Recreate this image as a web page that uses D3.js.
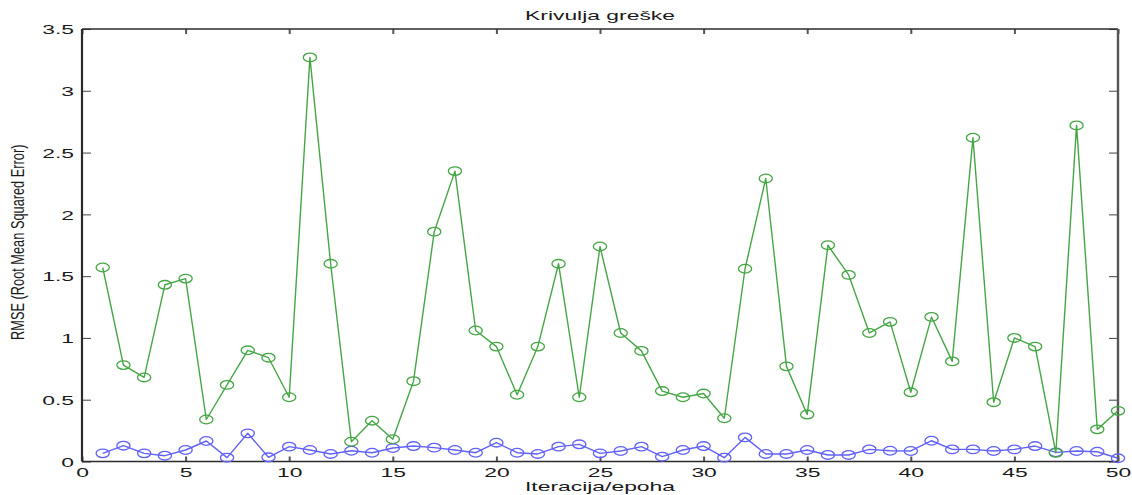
<!DOCTYPE html>
<html>
<head>
<meta charset="utf-8">
<script src="https://cdn.jsdelivr.net/npm/d3@7"></script>
<style>
  html, body { margin: 0; padding: 0; background: #fff; }
  svg { display: block; }
  text { font-family: "Liberation Sans", Arial, Helvetica, sans-serif; fill: #1a1a1a; }
</style>
</head>
<body>
<svg id="chart" width="1132" height="495"></svg>
<script>
// Epochs 1..50
const epochs = d3.range(1, 51);

// RMSE of the validation run (green)
const rmseGreen = [
  1.57, 0.78, 0.68, 1.43, 1.48, 0.34, 0.62, 0.90, 0.84, 0.52,
  3.27, 1.60, 0.16, 0.33, 0.18, 0.65, 1.86, 2.35, 1.06, 0.93,
  0.54, 0.93, 1.60, 0.52, 1.74, 1.04, 0.895, 0.57, 0.52, 0.55,
  0.35, 1.56, 2.29, 0.77, 0.38, 1.75, 1.51, 1.04, 1.13, 0.56,
  1.17, 0.81, 2.62, 0.48, 1.00, 0.93, 0.07, 2.72, 0.26, 0.41
];

// RMSE of the training run (blue)
const rmseBlue = [
  0.066, 0.128, 0.066, 0.047, 0.093, 0.166, 0.031, 0.228, 0.034, 0.120,
  0.093, 0.061, 0.087, 0.071, 0.109, 0.125, 0.112, 0.093, 0.071, 0.152,
  0.071, 0.061, 0.120, 0.139, 0.066, 0.085, 0.120, 0.039, 0.093, 0.125,
  0.031, 0.195, 0.061, 0.061, 0.093, 0.053, 0.053, 0.098, 0.087, 0.085,
  0.168, 0.098, 0.098, 0.085, 0.098, 0.125, 0.074, 0.085, 0.079, 0.026
];

const xTicks = [0, 5, 10, 15, 20, 25, 30, 35, 40, 45, 50];
const xTickLabels = ["0", "5", "10", "15", "20", "25", "30", "35", "40", "45", "50"];
const yTicks = [0, 0.5, 1, 1.5, 2, 2.5, 3, 3.5];
const yTickLabels = ["0", "0.5", "1", "1.5", "2", "2.5", "3", "3.5"];

const titleText = "Krivulja greške";
const xLabelText = "Iteracija/epoha";
const yLabelText = "RMSE (Root Mean Squared Error)";

// plot area
const plotL = 82, plotR = 1118, plotT = 29, plotB = 461.5;
const SX = 1.76;           // horizontal stretch of the figure's text
const axisColor = "#2b2b2b";
const tickColor = "#555";

const svg = d3.select("#chart");
const x = d3.scaleLinear().domain([0, 50]).range([plotL, plotR]);
const y = d3.scaleLinear().domain([0, 3.5]).range([plotB, plotT]);

// ---- axes (ticks pointing inward on all four sides) ----
function styleAxis(g) {
  g.select(".domain").remove();
  g.selectAll(".tick line").attr("stroke", tickColor);
}

const gBottom = svg.append("g").attr("transform", `translate(0,${plotB})`)
  .call(d3.axisBottom(x).tickValues(xTicks).tickSize(-5)
    .tickFormat((d, i) => xTickLabels[i]));
styleAxis(gBottom);
gBottom.selectAll(".tick line").attr("stroke-width", 2);
gBottom.selectAll(".tick text")
  .attr("x", null).attr("y", null).attr("dy", null)
  .attr("transform", `translate(0,15) scale(${SX},1)`)
  .attr("font-size", 13).attr("fill", "#1a1a1a");

const gTop = svg.append("g").attr("transform", `translate(0,${plotT})`)
  .call(d3.axisTop(x).tickValues(xTicks).tickSize(-5).tickFormat(""));
styleAxis(gTop);
gTop.selectAll(".tick line").attr("stroke-width", 2);

const gLeft = svg.append("g").attr("transform", `translate(${plotL},0)`)
  .call(d3.axisLeft(y).tickValues(yTicks).tickSize(-9)
    .tickFormat((d, i) => yTickLabels[i]));
styleAxis(gLeft);
gLeft.selectAll(".tick line").attr("stroke-width", 1.1);
gLeft.selectAll(".tick text")
  .attr("x", null).attr("dy", "0.36em")
  .attr("transform", `translate(-8,0) scale(${SX},1)`)
  .attr("font-size", 13).attr("fill", "#1a1a1a");

const gRight = svg.append("g").attr("transform", `translate(${plotR},0)`)
  .call(d3.axisRight(y).tickValues(yTicks).tickSize(-9).tickFormat(""));
styleAxis(gRight);
gRight.selectAll(".tick line").attr("stroke-width", 1.1);

// ---- axes box ----
const box = svg.append("g").attr("stroke", axisColor).attr("fill", "none");
box.append("line").attr("x1", plotL).attr("x2", plotR).attr("y1", plotT).attr("y2", plotT).attr("stroke-width", 1.3);
box.append("line").attr("x1", plotL).attr("x2", plotR).attr("y1", plotB).attr("y2", plotB).attr("stroke-width", 1.3);
box.append("line").attr("x1", plotL).attr("x2", plotL).attr("y1", plotT).attr("y2", plotB).attr("stroke-width", 2.2);
box.append("line").attr("x1", plotR).attr("x2", plotR).attr("y1", plotT).attr("y2", plotB).attr("stroke-width", 2.4).attr("stroke", "#555");

// ---- series ----
function drawSeries(values, color) {
  const pts = epochs.map((e, i) => [e, values[i]]);
  const line = d3.line().x(d => x(d[0])).y(d => y(d[1]));
  svg.append("path").datum(pts)
    .attr("d", line)
    .attr("fill", "none")
    .attr("stroke", color)
    .attr("stroke-width", 1.4)
    .attr("stroke-linejoin", "round");
  svg.append("g").selectAll("ellipse").data(pts).join("ellipse")
    .attr("cx", d => x(d[0]))
    .attr("cy", d => y(d[1]))
    .attr("rx", 6.6).attr("ry", 4.3)
    .attr("fill", "none")
    .attr("stroke", color)
    .attr("stroke-width", 1.3);
}

drawSeries(rmseBlue, "#6262f8");
drawSeries(rmseGreen, "#46a646");

// ---- titles ----
svg.append("text")
  .attr("transform", `translate(${(plotL + plotR) / 2},20) scale(${SX},1)`)
  .attr("text-anchor", "middle").attr("font-size", 13)
  .text(titleText);

svg.append("text")
  .attr("transform", `translate(${(plotL + plotR) / 2},491) scale(${SX},1)`)
  .attr("text-anchor", "middle").attr("font-size", 13)
  .text(xLabelText);

svg.append("text")
  .attr("transform", `translate(17,${(plotT + plotB) / 2 - 3}) scale(1.5,1) rotate(-90)`)
  .attr("text-anchor", "middle").attr("dy", "0.36em").attr("font-size", 12.8)
  .text(yLabelText);
</script>
</body>
</html>
